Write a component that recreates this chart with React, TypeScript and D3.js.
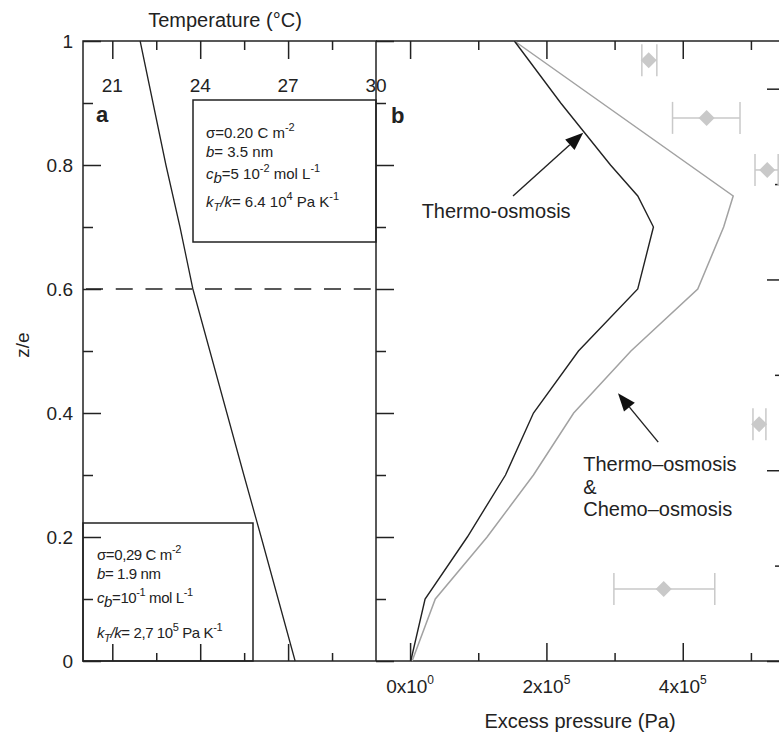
import React, { useEffect, useRef } from "react";
import * as d3 from "d3";

// panel a: temperature profile vs z/e
const zTemp = [1, 0.9, 0.8, 0.7, 0.6, 0.5, 0.4, 0.3, 0.2, 0.1, 0];
const temperature = [21.95, 22.39, 22.83, 23.31, 23.75, 24.33, 24.91, 25.49, 26.08, 26.66, 27.24];

// panel b: excess pressure, thermo-osmosis only
const zThermo = [1, 0.9, 0.8, 0.75, 0.7, 0.6, 0.5, 0.4, 0.3, 0.2, 0.1, 0];
const pThermo = [1.53e5, 2.21e5, 2.94e5, 3.34e5, 3.57e5, 3.34e5, 2.47e5, 1.81e5, 1.4e5, 0.84e5, 0.22e5, 0.01e5];

// panel b: thermo-osmosis & chemo-osmosis
const zBoth = [1, 0.75, 0.7, 0.6, 0.5, 0.4, 0.3, 0.2, 0.1, 0];
const pBoth = [1.53e5, 4.74e5, 4.6e5, 4.22e5, 3.24e5, 2.4e5, 1.81e5, 1.13e5, 0.37e5, 0.03e5];

// measured points with horizontal error bars
const zPts = [0.969, 0.876, 0.792, 0.382, 0.116];
const pPts = [3.5e5, 4.35e5, 5.24e5, 5.12e5, 3.72e5];
const pLo = [3.4e5, 3.85e5, 5.06e5, 5.03e5, 2.99e5];
const pHi = [3.62e5, 4.84e5, 5.4e5, 5.22e5, 4.47e5];

// ticks
const zMajor = [0, 0.2, 0.4, 0.6, 0.8, 1];
const zMinor = [0.1, 0.3, 0.5, 0.7, 0.9];
const zLabels = ["0", "0.2", "0.4", "0.6", "0.8", "1"];
const tMajor = [21, 24, 27];
const tMinor = [22.5, 25.5, 28.5];
const tLabelVals = [21, 24, 27, 30];
const pMajor = [0, 2e5, 4e5];
const pMinor = [1e5, 3e5, 5e5];
const pMant = ["0", "2", "4"];
const pExp = ["0", "5", "5"];
const rMajor = [0, 2, 4, 6];
const rMinor = [1, 3, 5];

const FONT = "'Liberation Sans', Arial, Helvetica, sans-serif";
const INK = "#222";

export default function App() {
  const axesRef = useRef<SVGGElement>(null);

  const left = 83, mid = 376, rightAxis = 785, top = 41, bottom = 661;

  const yZ = d3.scaleLinear().domain([0, 1]).range([bottom, top]);
  const xT = d3.scaleLinear().domain([20, 30]).range([left, mid]);
  const xP = d3.scaleLinear().domain([-0.5e5, 5.5e5]).range([mid, rightAxis]);
  const yR = d3.scaleLinear().domain([0, 6.5]).range([bottom, top]);

  useEffect(() => {
    const g = d3.select(axesRef.current);
    g.selectAll("*").remove();
    const add = (axis: any, tr: string) => {
      const a = g.append("g").attr("transform", tr).call(axis);
      a.select(".domain").remove();
      a.selectAll("text").remove();
      a.selectAll("line").attr("stroke-width", 1.5);
    };
    // panel a
    add(d3.axisLeft(yZ).tickValues(zMajor).tickSize(-18), `translate(${left},0)`);
    add(d3.axisLeft(yZ).tickValues(zMinor).tickSize(-10), `translate(${left},0)`);
    add(d3.axisTop(xT).tickValues(tMajor).tickSize(-18), `translate(0,${top})`);
    add(d3.axisTop(xT).tickValues(tMinor).tickSize(-9), `translate(0,${top})`);
    add(d3.axisBottom(xT).tickValues(tMajor).tickSize(-17), `translate(0,${bottom})`);
    add(d3.axisBottom(xT).tickValues(tMinor).tickSize(-8), `translate(0,${bottom})`);
    // panel b
    add(d3.axisLeft(yZ).tickValues(zMajor).tickSize(-18), `translate(${mid},0)`);
    add(d3.axisLeft(yZ).tickValues(zMinor).tickSize(-10), `translate(${mid},0)`);
    add(d3.axisTop(xP).tickValues(pMajor).tickSize(-18), `translate(0,${top})`);
    add(d3.axisTop(xP).tickValues(pMinor).tickSize(-9), `translate(0,${top})`);
    add(d3.axisBottom(xP).tickValues(pMajor).tickSize(-18), `translate(0,${bottom})`);
    add(d3.axisBottom(xP).tickValues(pMinor).tickSize(-8), `translate(0,${bottom})`);
    add(d3.axisRight(yR).tickValues(rMajor).tickSize(-18), `translate(${rightAxis},0)`);
    add(d3.axisRight(yR).tickValues(rMinor).tickSize(-10), `translate(${rightAxis},0)`);
    g.attr("color", INK);
  }, []);

  const tempLine = d3
    .line<number>()
    .x((d, i) => xT(temperature[i]))
    .y((d) => yZ(d))(zTemp);
  const thermoLine = d3
    .line<number>()
    .x((d, i) => xP(pThermo[i]))
    .y((d) => yZ(d))(zThermo);
  const bothLine = d3
    .line<number>()
    .x((d, i) => xP(pBoth[i]))
    .y((d) => yZ(d))(zBoth);

  const arrow = (x1: number, y1: number, x2: number, y2: number, key: string) => {
    const a = Math.atan2(y2 - y1, x2 - x1);
    const L = 18, w = 7;
    const bx = x2 - L * Math.cos(a), by = y2 - L * Math.sin(a);
    const p1 = [bx + w * Math.sin(a), by - w * Math.cos(a)];
    const p2 = [bx - w * Math.sin(a), by + w * Math.cos(a)];
    return (
      <g key={key}>
        <line x1={x1} y1={y1} x2={bx} y2={by} stroke={INK} strokeWidth={1.4} />
        <path d={`M${x2},${y2}L${p1[0]},${p1[1]}L${p2[0]},${p2[1]}Z`} fill="#111" />
      </g>
    );
  };

  const supDy = -7;

  return (
    <svg
      width={779}
      height={734}
      style={{ position: "absolute", left: 0, top: 0, background: "#fff" }}
      fontFamily={FONT}
    >
      {/* frames */}
      <rect x={left} y={top} width={mid - left} height={bottom - top} fill="none" stroke={INK} strokeWidth={1.5} />
      <line x1={mid} y1={top} x2={rightAxis} y2={top} stroke={INK} strokeWidth={1.5} />
      <line x1={mid} y1={bottom} x2={rightAxis} y2={bottom} stroke={INK} strokeWidth={1.5} />
      <line x1={rightAxis} y1={top} x2={rightAxis} y2={bottom} stroke={INK} strokeWidth={1.5} />

      <g ref={axesRef} />

      {/* dashed level z/e = 0.6 */}
      <line x1={left + 3} y1={yZ(0.6)} x2={mid} y2={yZ(0.6)} stroke={INK} strokeWidth={1.4} strokeDasharray="17 12.75" />

      {/* curves */}
      <path d={tempLine || ""} fill="none" stroke={INK} strokeWidth={1.3} />
      <path d={bothLine || ""} fill="none" stroke="#a2a2a2" strokeWidth={1.5} />
      <path d={thermoLine || ""} fill="none" stroke={INK} strokeWidth={1.4} />

      {/* measured points */}
      {zPts.map((z, i) => {
        const y = yZ(z), x = xP(pPts[i]), x0 = xP(pLo[i]), x1 = xP(pHi[i]);
        return (
          <g key={i} stroke="#c9c9c9" strokeWidth={1.5}>
            <line x1={x0} y1={y} x2={x1} y2={y} />
            <line x1={x0} y1={y - 16} x2={x0} y2={y + 16} />
            <line x1={x1} y1={y - 16} x2={x1} y2={y + 16} />
            <path d={`M${x - 8},${y}L${x},${y - 8}L${x + 8},${y}L${x},${y + 8}Z`} fill="#c9c9c9" stroke="none" />
          </g>
        );
      })}

      {/* annotations */}
      {arrow(xP(1.51e5), yZ(0.75), xP(2.54e5), yZ(0.852), "a1")}
      {arrow(xP(3.64e5), yZ(0.353), xP(3.05e5), yZ(0.432), "a2")}
      <text x={xP(0.17e5)} y={yZ(0.715)} fontSize={20} fill={INK}>Thermo-osmosis</text>
      <text x={xP(2.54e5)} y={yZ(0.306)} fontSize={20} fill={INK}>
        <tspan x={xP(2.54e5)}>Thermo–osmosis</tspan>
        <tspan x={xP(2.54e5)} dy={22.5}>&amp;</tspan>
        <tspan x={xP(2.54e5)} dy={22.5}>Chemo–osmosis</tspan>
      </text>

      {/* text box 1 */}
      <rect x={193} y={100} width={mid - 193} height={142} fill="none" stroke={INK} strokeWidth={1.5} />
      <g fontSize={15} fill={INK}>
        <text x={206} y={138}>
          σ=0.20 C m<tspan dy={supDy} fontSize={11}>-2</tspan>
        </text>
        <text x={206} y={157}>
          <tspan fontStyle="italic">b</tspan>= 3.5 nm
        </text>
        <text x={206} y={179}>
          <tspan fontStyle="italic">c</tspan>
          <tspan fontStyle="italic" dy={4}>b</tspan>
          <tspan dy={-4}>=5 10</tspan>
          <tspan dy={supDy} fontSize={11}>-2</tspan>
          <tspan dy={-supDy}> mol L</tspan>
          <tspan dy={supDy} fontSize={11}>-1</tspan>
        </text>
        <text x={206} y={207}>
          <tspan fontStyle="italic">k</tspan>
          <tspan fontStyle="italic" dy={4} fontSize={11}>T</tspan>
          <tspan dy={-4} fontStyle="italic">/k</tspan>
          <tspan>= 6.4 10</tspan>
          <tspan dy={supDy} fontSize={11}>4</tspan>
          <tspan dy={-supDy}> Pa K</tspan>
          <tspan dy={supDy} fontSize={11}>-1</tspan>
        </text>
      </g>

      {/* text box 2 */}
      <rect x={left} y={523} width={253 - left} height={bottom - 523} fill="none" stroke={INK} strokeWidth={1.5} />
      <g fontSize={15} fill={INK} letterSpacing={-0.4}>
        <text x={97} y={560}>
          σ=0,29 C m<tspan dy={supDy} fontSize={11}>-2</tspan>
        </text>
        <text x={97} y={579}>
          <tspan fontStyle="italic">b</tspan>= 1.9 nm
        </text>
        <text x={97} y={603}>
          <tspan fontStyle="italic">c</tspan>
          <tspan fontStyle="italic" dy={4}>b</tspan>
          <tspan dy={-4}>=10</tspan>
          <tspan dy={supDy} fontSize={11}>-1</tspan>
          <tspan dy={-supDy}> mol L</tspan>
          <tspan dy={supDy} fontSize={11}>-1</tspan>
        </text>
        <text x={97} y={638}>
          <tspan fontStyle="italic">k</tspan>
          <tspan fontStyle="italic" dy={4} fontSize={11}>T</tspan>
          <tspan dy={-4} fontStyle="italic">/k</tspan>
          <tspan>= 2,7 10</tspan>
          <tspan dy={supDy} fontSize={11}>5</tspan>
          <tspan dy={-supDy}> Pa K</tspan>
          <tspan dy={supDy} fontSize={11}>-1</tspan>
        </text>
      </g>

      {/* panel letters */}
      <text x={96} y={122} fontSize={22} fontWeight="bold" fill={INK}>a</text>
      <text x={391} y={123} fontSize={22} fontWeight="bold" fill={INK}>b</text>

      {/* tick labels */}
      <g fontSize={19} fill={INK}>
        {zMajor.map((z, i) => (
          <text key={i} x={73} y={yZ(z)} dy="0.36em" textAnchor="end">{zLabels[i]}</text>
        ))}
        {tLabelVals.map((t) => (
          <text key={t} x={xT(t)} y={92} textAnchor="middle">{t}</text>
        ))}
        {pMajor.map((p, i) => (
          <text key={i} x={xP(p)} y={693} textAnchor="middle">
            {pMant[i]}x10<tspan dy={-9} fontSize={12}>{pExp[i]}</tspan>
          </text>
        ))}
      </g>

      {/* axis titles */}
      <text x={225} y={27} fontSize={20} textAnchor="middle" fill={INK}>Temperature (°C)</text>
      <text x={580} y={728} fontSize={20} textAnchor="middle" fill={INK}>Excess pressure (Pa)</text>
      <text transform="translate(29,345) rotate(-90)" fontSize={19} textAnchor="middle" fill={INK}>z/e</text>
    </svg>
  );
}
